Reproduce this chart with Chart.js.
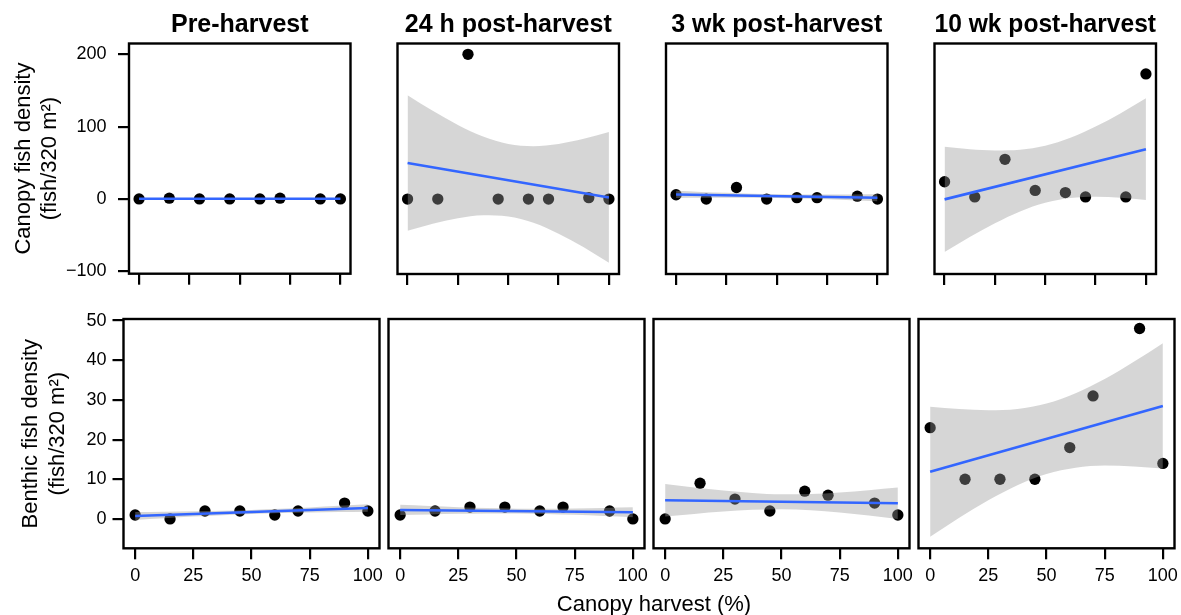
<!DOCTYPE html>
<html>
<head>
<meta charset="utf-8">
<title>Fish density vs canopy harvest</title>
<script src="https://cdn.jsdelivr.net/npm/chart.js@4.4.1/dist/chart.umd.min.js"></script>
<style>
    html, body { margin: 0; padding: 0; background: #fff; overflow: hidden; }
    #figure { position: relative; width: 1181px; height: 615px; }
    #figure canvas { position: absolute; }
    #xTitle {
        position: absolute; left: 454px; width: 400px; top: 591px;
        text-align: center; color: #000;
        font: 22px/26px "Liberation Sans", Arial, Helvetica, sans-serif;
    }
</style>
</head>
<body>
<div id="figure">
    <canvas id="canopyPre"></canvas>
    <canvas id="canopy24h"></canvas>
    <canvas id="canopy3wk"></canvas>
    <canvas id="canopy10wk"></canvas>
    <canvas id="benthicPre"></canvas>
    <canvas id="benthic24h"></canvas>
    <canvas id="benthic3wk"></canvas>
    <canvas id="benthic10wk"></canvas>
    <div id="xTitle">Canopy harvest (%)</div>
</div>
<script>
// Sampling design: canopy harvest levels (%)
const harvest = [0, 15, 30, 45, 60, 70, 90, 100];
const periods = ['Pre-harvest', '24 h post-harvest', '3 wk post-harvest', '10 wk post-harvest'];

// Canopy fish density (fish/320 m2)
const canopyPre = [0, 1, 0, 0, 0, 1, 0, 0];
const canopy24h = [0, 0, 200, 0, 0, 0, 2, 0];
const canopy3wk = [6, 0, 16, 0, 2, 2, 4, 0];
const canopy10wk = [24, 3, 55, 12, 9, 3, 3, 173];

// Benthic fish density (fish/320 m2)
const benthicPre = [1, 0, 2, 2, 1, 2, 4, 2];
const benthic24h = [1, 2, 3, 3, 2, 3, 2, 0];
const benthic3wk = [0, 9, 5, 2, 7, 6, 4, 1];
const benthic10wk = [23, 10, 10, 10, 18, 31, 48, 14];

// Linear fits (read at the ends) and confidence bands (read along x)
const fitX = [0, 100];
const bandX = [0, 12.5, 25, 37.5, 50, 62.5, 75, 87.5, 100];

const canopyPreFit = [0.25, 0.25];
const canopyPreUpper = [0.85, 0.75, 0.65, 0.58, 0.55, 0.58, 0.65, 0.75, 0.85];
const canopyPreLower = [-0.35, -0.25, -0.15, -0.08, -0.05, -0.08, -0.15, -0.25, -0.35];

const canopy24hFit = [50, 2.3];
const canopy24hUpper = [143.6, 122, 102.5, 86.4, 76.1, 73.1, 76.2, 83.3, 92.7];
const canopy24hLower = [-43.6, -34, -26.3, -22.2, -23.9, -32.7, -47.8, -66.7, -88.1];

const canopy3wkFit = [6.4, 1.9];
const canopy3wkUpper = [11.4, 9.96, 8.62, 7.47, 6.65, 6.26, 6.23, 6.41, 6.72];
const canopy3wkLower = [1.4, 1.72, 1.94, 1.95, 1.65, 0.92, -0.17, -1.49, -2.92];

const canopy10wkFit = [-0.4, 69];
const canopy10wkUpper = [72.3, 69, 67.3, 68.2, 73.7, 84.6, 100.2, 118.7, 139.2];
const canopy10wkLower = [-73.1, -52.4, -33.3, -17, -5.1, 1.4, 3.2, 1.9, -1.2];

const benthicPreFit = [0.75, 2.77];
const benthicPreUpper = [1.75, 1.82, 1.93, 2.06, 2.26, 2.54, 2.91, 3.31, 3.73];
const benthicPreLower = [-0.25, 0.18, 0.59, 0.96, 1.26, 1.48, 1.63, 1.73, 1.81];

const benthic24hFit = [2.27, 1.7];
const benthic24hUpper = [3.57, 3.26, 2.97, 2.74, 2.59, 2.56, 2.64, 2.78, 2.95];
const benthic24hLower = [0.97, 1.14, 1.29, 1.38, 1.39, 1.26, 1.04, 0.76, 0.45];

const benthic3wkFit = [4.7, 3.95];
const benthic3wkUpper = [8.8, 7.95, 7.16, 6.53, 6.2, 6.27, 6.66, 7.23, 7.9];
const benthic3wkLower = [0.6, 1.27, 1.86, 2.31, 2.46, 2.19, 1.62, 0.85, 0.0];

const benthic10wkFit = [11.9, 28.5];
const benthic10wkUpper = [28.3, 27.7, 27.4, 27.7, 29.1, 31.7, 35.25, 39.6, 44.3];
const benthic10wkLower = [-4.5, 0.3, 4.7, 8.5, 11.3, 12.9, 13.45, 13.2, 12.7];

// Tick labels
const harvestTicks = [0, 25, 50, 75, 100];
const canopyTicks = [-100, 0, 100, 200];
const benthicTicks = [0, 10, 20, 30, 40, 50];

const FONT = '"Liberation Sans", Arial, Helvetica, sans-serif';
Chart.defaults.font.family = FONT;
Chart.defaults.color = '#000';

// Layout of the two rows of facets (pixels on the page)
const rows = [
    {
        boxTop: 43.5, boxBottom: 274, canvasTop: 0, below: 22,
        lefts: [129, 397.5, 666, 934.5], width: 221.5,
        yMin: -103.5, yMax: 215, yTicks: canopyTicks, tickPad: 11.5, titlePad: 7.5,
        yTitle: ['Canopy fish density', '(fish/320 m\u00B2)']
    },
    {
        boxTop: 319, boxBottom: 548.3, canvasTop: 296, below: 52,
        lefts: [123.5, 388.5, 653.5, 918.5], width: 256,
        yMin: -7.4, yMax: 50.4, yTicks: benthicTicks, tickPad: 6, titlePad: 15,
        yTitle: ['Benthic fish density', '(fish/320 m\u00B2)']
    }
];

const panels = [
    { id: 'canopyPre', row: 0, col: 0, values: canopyPre, fit: canopyPreFit, upper: canopyPreUpper, lower: canopyPreLower },
    { id: 'canopy24h', row: 0, col: 1, values: canopy24h, fit: canopy24hFit, upper: canopy24hUpper, lower: canopy24hLower },
    { id: 'canopy3wk', row: 0, col: 2, values: canopy3wk, fit: canopy3wkFit, upper: canopy3wkUpper, lower: canopy3wkLower },
    { id: 'canopy10wk', row: 0, col: 3, values: canopy10wk, fit: canopy10wkFit, upper: canopy10wkUpper, lower: canopy10wkLower },
    { id: 'benthicPre', row: 1, col: 0, values: benthicPre, fit: benthicPreFit, upper: benthicPreUpper, lower: benthicPreLower },
    { id: 'benthic24h', row: 1, col: 1, values: benthic24h, fit: benthic24hFit, upper: benthic24hUpper, lower: benthic24hLower },
    { id: 'benthic3wk', row: 1, col: 2, values: benthic3wk, fit: benthic3wkFit, upper: benthic3wkUpper, lower: benthic3wkLower },
    { id: 'benthic10wk', row: 1, col: 3, values: benthic10wk, fit: benthic10wkFit, upper: benthic10wkUpper, lower: benthic10wkLower }
];

// Panel border drawn on top of everything
const framePlugin = {
    id: 'frame',
    afterDraw(chart) {
        const a = chart.chartArea;
        const ctx = chart.ctx;
        ctx.save();
        ctx.lineWidth = 2.4;
        ctx.strokeStyle = '#000';
        ctx.strokeRect(a.left, a.top, a.right - a.left, a.bottom - a.top);
        ctx.restore();
    }
};

function pairs(xs, ys) {
    return xs.map((x, i) => ({ x: x, y: ys[i] }));
}

function minusLabel(v) {
    return v < 0 ? '\u2212' + Math.abs(v) : String(v);
}

function drawPanel(p) {
    const row = rows[p.row];
    const first = p.col === 0;
    const isTop = p.row === 0;
    const boxLeft = row.lefts[p.col];
    const canvasLeft = first ? 3 : Math.floor(boxLeft - 8);
    const leftSpace = boxLeft - canvasLeft;
    const canvasWidth = Math.ceil(leftSpace + row.width + 16);
    const canvasHeight = Math.ceil(row.boxBottom - row.canvasTop + row.below);
    const bottomSpace = canvasHeight - (row.boxBottom - row.canvasTop);

    const canvas = document.getElementById(p.id);
    canvas.width = canvasWidth;
    canvas.height = canvasHeight;
    canvas.style.left = canvasLeft + 'px';
    canvas.style.top = row.canvasTop + 'px';

    const tickGrid = {
        drawOnChartArea: false,
        drawTicks: true,
        tickLength: 11,
        color: '#000',
        lineWidth: 2.2
    };

    new Chart(canvas.getContext('2d'), {
        type: 'line',
        data: {
            datasets: [
                {
                    label: 'Sites',
                    data: pairs(harvest, p.values),
                    showLine: false,
                    pointRadius: 5.65,
                    pointBorderWidth: 0,
                    pointBackgroundColor: '#000',
                    order: 3
                },
                {
                    label: 'CI upper',
                    data: pairs(bandX, p.upper),
                    borderWidth: 0,
                    borderColor: 'rgba(0,0,0,0)',
                    backgroundColor: 'rgba(153,153,153,0.4)',
                    pointRadius: 0,
                    cubicInterpolationMode: 'monotone',
                    fill: '+1',
                    order: 2
                },
                {
                    label: 'CI lower',
                    data: pairs(bandX, p.lower),
                    borderWidth: 0,
                    borderColor: 'rgba(0,0,0,0)',
                    pointRadius: 0,
                    cubicInterpolationMode: 'monotone',
                    fill: false,
                    order: 2
                },
                {
                    label: 'Linear fit',
                    data: pairs(fitX, p.fit),
                    borderColor: '#3366FF',
                    borderWidth: 2.6,
                    pointRadius: 0,
                    fill: false,
                    order: 1
                }
            ]
        },
        options: {
            responsive: false,
            animation: false,
            devicePixelRatio: 1,
            layout: {
                autoPadding: false,
                padding: {
                    left: 0,
                    right: canvasWidth - leftSpace - row.width,
                    top: isTop ? 0 : row.boxTop - row.canvasTop,
                    bottom: 0
                }
            },
            plugins: {
                legend: { display: false },
                tooltip: { enabled: false },
                title: {
                    display: isTop,
                    text: periods[p.col],
                    fullSize: false,
                    color: '#000',
                    font: { size: 25, weight: 'bold', lineHeight: 1.2 },
                    padding: { top: 10, bottom: row.boxTop - 10 - 30 }
                }
            },
            scales: {
                x: {
                    type: 'linear',
                    min: -5,
                    max: 105,
                    afterBuildTicks: s => { s.ticks = harvestTicks.map(v => ({ value: v })); },
                    afterFit: s => { s.height = bottomSpace; },
                    grid: tickGrid,
                    border: { display: false },
                    ticks: {
                        display: !isTop,
                        autoSkip: false,
                        maxRotation: 0,
                        padding: 6.4,
                        color: '#000',
                        font: { size: 18, lineHeight: 1.2 }
                    }
                },
                y: {
                    type: 'linear',
                    display: first,
                    min: row.yMin,
                    max: row.yMax,
                    afterBuildTicks: s => { s.ticks = row.yTicks.map(v => ({ value: v })); },
                    afterFit: s => { s.width = leftSpace; },
                    grid: tickGrid,
                    border: { display: false },
                    ticks: {
                        padding: row.tickPad,
                        color: '#000',
                        font: { size: 18, lineHeight: 1.2 },
                        callback: v => minusLabel(v)
                    },
                    title: {
                        display: true,
                        text: row.yTitle,
                        color: '#000',
                        font: { size: 22, lineHeight: 1.2 },
                        padding: { top: row.titlePad, bottom: 0 }
                    }
                }
            }
        },
        plugins: [framePlugin]
    });
}

document.addEventListener('DOMContentLoaded', function() {
    panels.forEach(drawPanel);
});
</script>
</body>
</html>
